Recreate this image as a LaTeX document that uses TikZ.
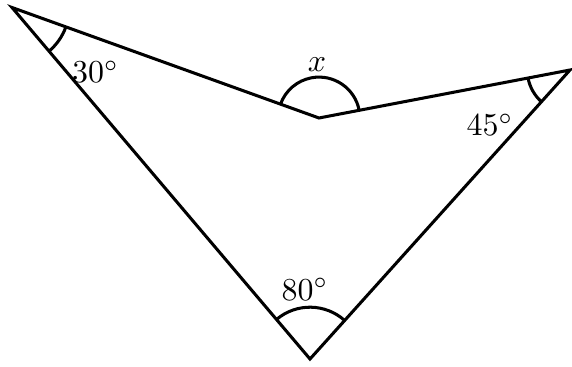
\documentclass[tikz,border=0pt]{standalone}
\usetikzlibrary{angles,calc}

\begin{document}
\begin{tikzpicture}[
  x=0.011cm, y=0.011cm,
  edge/.style={line width=0.95pt, line join=miter},
  anglemark/.style={draw, line width=0.95pt},
  lab/.style={inner sep=0pt}
]
\useasboundingbox (0,0) rectangle (572,367);

% ---------------- vertices ----------------
\coordinate (A) at (12,359.5);
\coordinate (B) at (319,249);
\coordinate (C) at (570,297);
\coordinate (D) at (310,8);

% ---------------- outline ----------------
\draw[edge] (A) -- (B) -- (C) -- (D) -- cycle;

% ---------------- angle marks ----------------
\pic[anglemark, angle radius=0.63cm] {angle=D--A--B};
\pic[anglemark, angle radius=0.45cm] {angle=C--B--A};
\pic[anglemark, angle radius=0.47cm] {angle=B--C--D};
\pic[anglemark, angle radius=0.57cm] {angle=C--D--A};

% ---------------- labels ----------------
\node[lab] (angA) at (95.5,295) {$30^\circ$};
\node[lab] (angB) at (317,302) {$x$};
\node[lab] (angC) at (490,242) {$45^\circ$};
\node[lab] (angD) at (305,78) {$80^\circ$};

\end{tikzpicture}
\end{document}
